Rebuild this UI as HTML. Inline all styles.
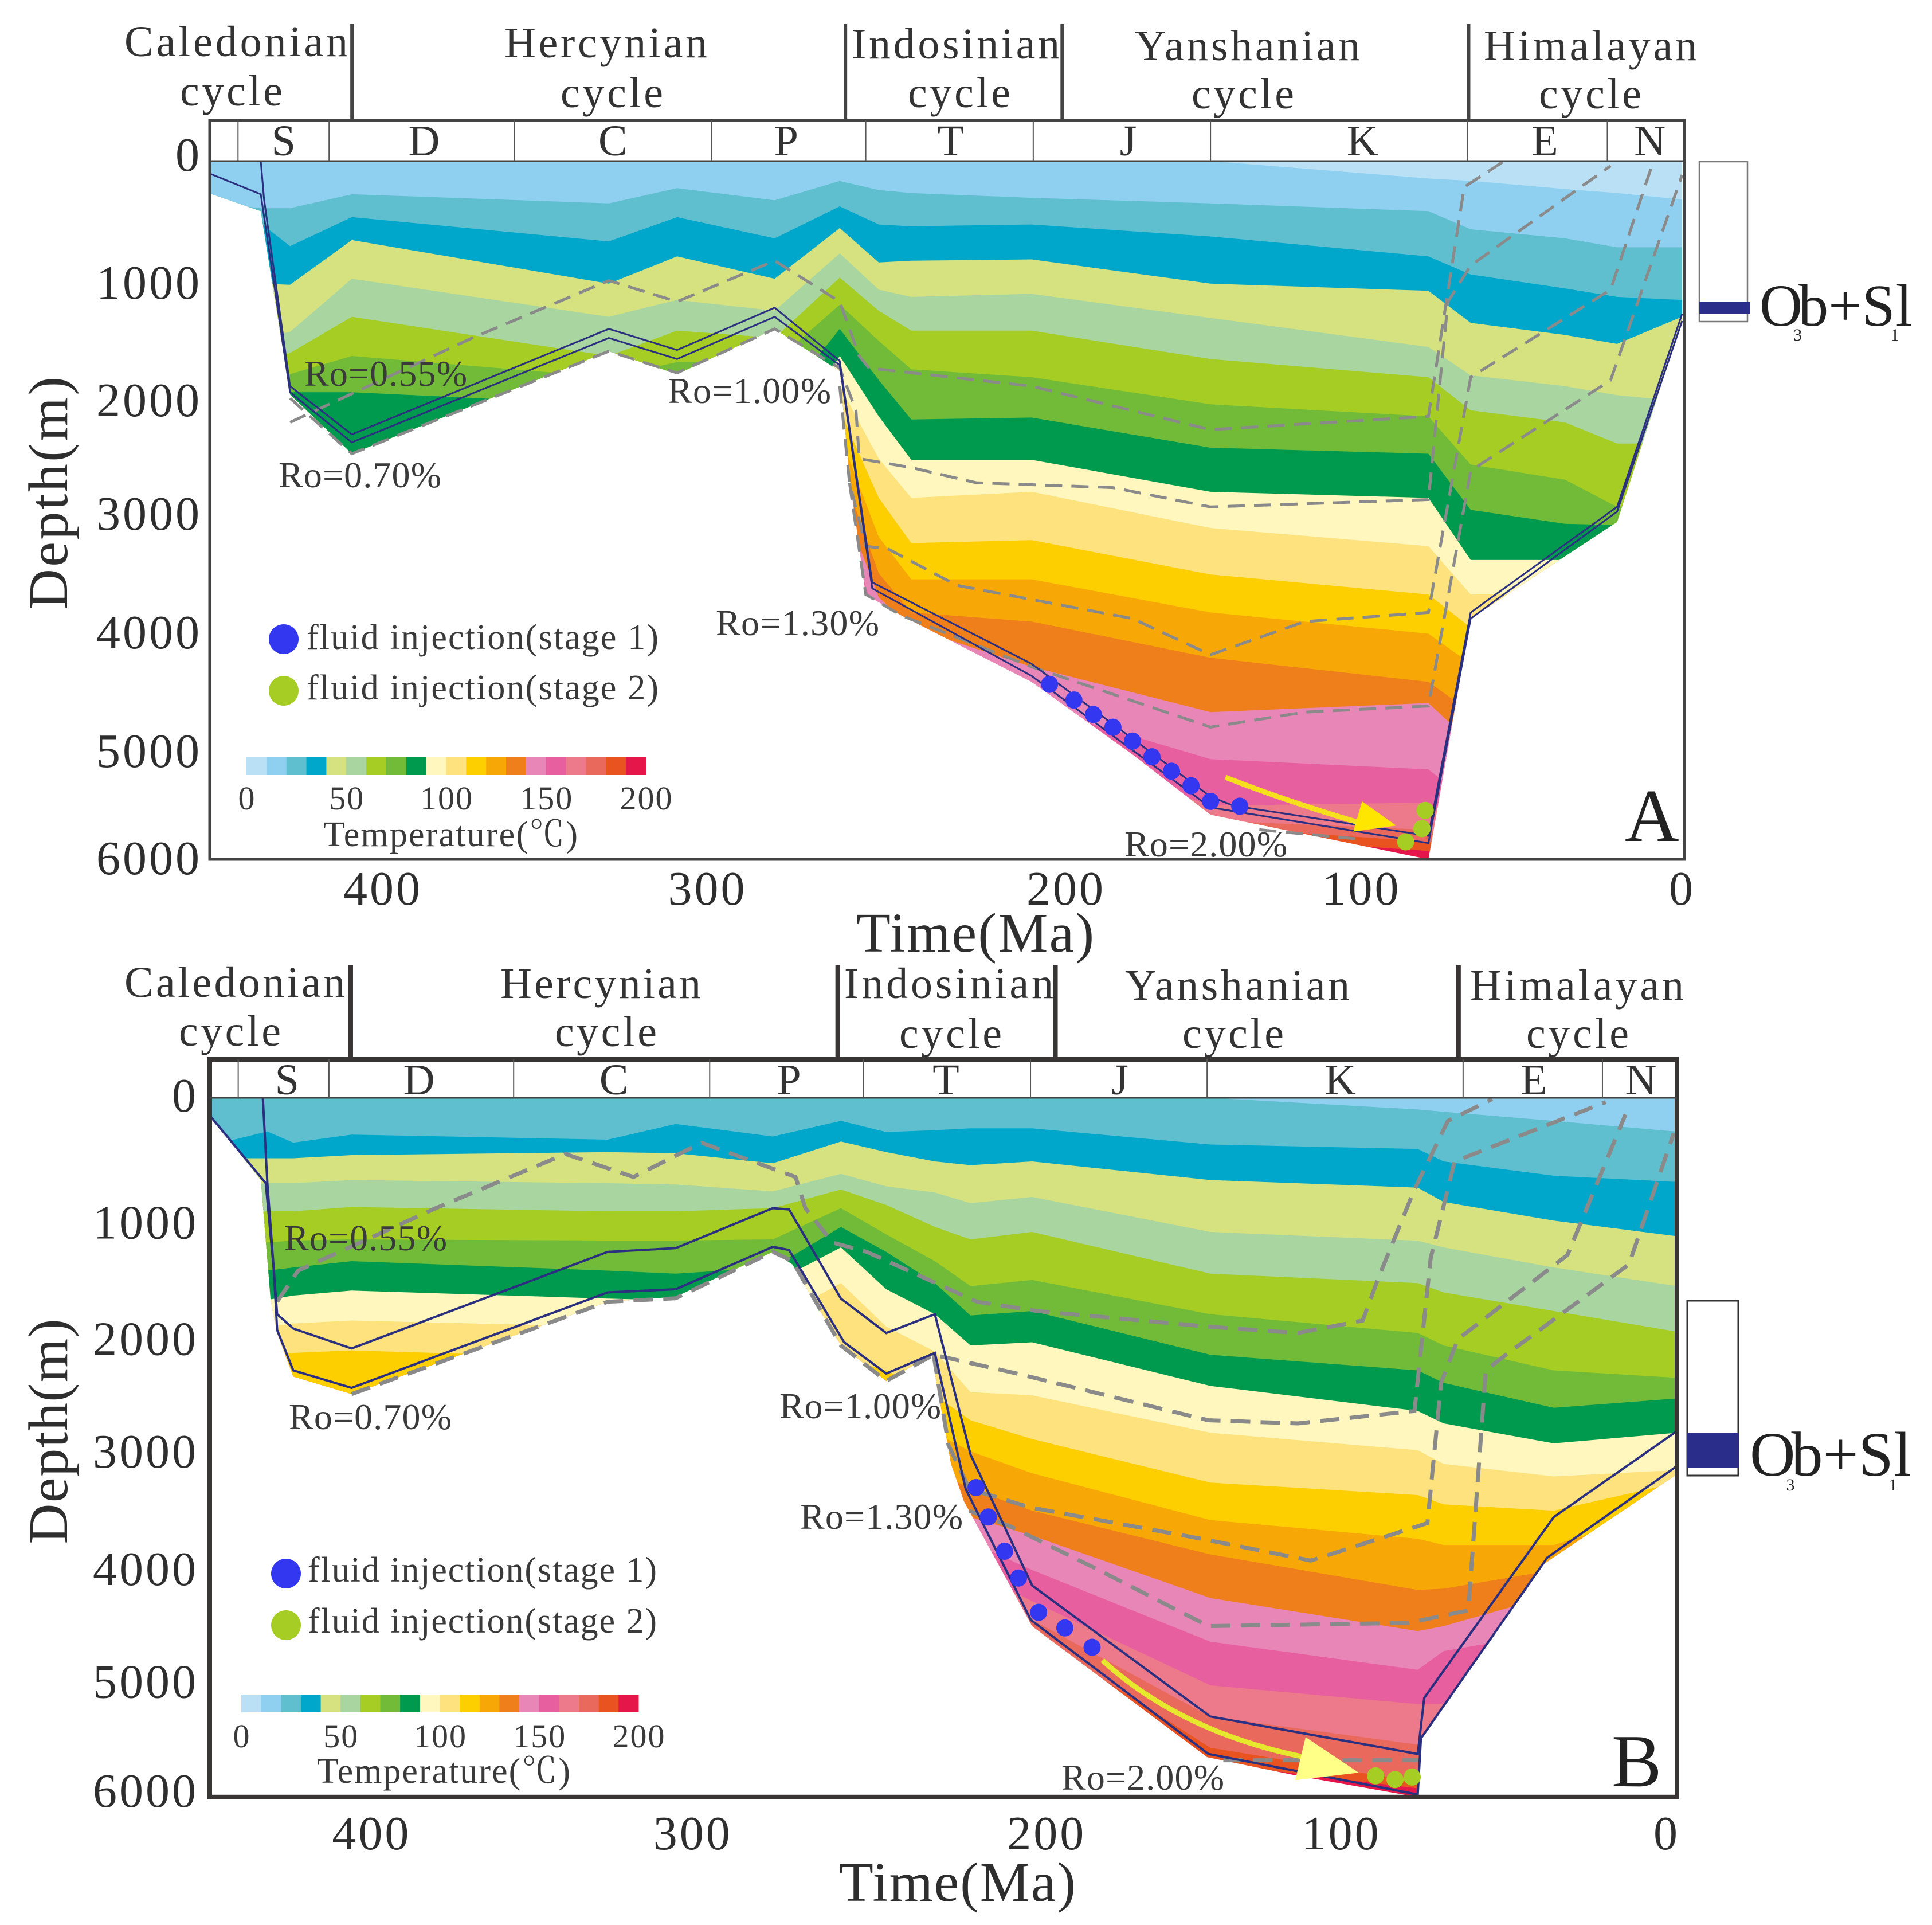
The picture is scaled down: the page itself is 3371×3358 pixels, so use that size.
<!DOCTYPE html>
<html lang="en">
<head>
<meta charset="utf-8">
<title>Burial and thermal history, wells A and B</title>
<style>
html,body{margin:0;padding:0;background:#fff}
svg{display:block}
text{font-family:"Liberation Serif","Noto Serif CJK SC",serif;fill:#333}
.cyc{font-size:76px}
.per{font-size:76px;text-anchor:middle}
.ro{font-size:64px;fill:#3a3a3a}
.leg{font-size:62px;fill:#3a3a3a}
.ttl{font-size:98px;fill:#2e2e2e}
.tick{font-size:84px;letter-spacing:4px;fill:#2e2e2e}
.ltick{font-size:58px;letter-spacing:2px;text-anchor:middle;fill:#3a3a3a}
.tag{font-size:131px;fill:#222}
.fm{font-size:104px;fill:#222}
.fmb{font-size:110px;fill:#222}
.sub{font-size:30px}
</style>
</head>
<body>
<svg xmlns="http://www.w3.org/2000/svg" id="chart" width="3371" height="3358" viewBox="0 0 3371 3358">
<rect width="3371" height="3358" fill="#fff"/>
<g id="panelA"></g>
<g id="panelB"></g>

<!-- Panel A static labels -->
<g>
<text class="cyc" x="217" y="98" textLength="390">Caledonian</text>
<text class="cyc" x="314" y="184" textLength="179">cycle</text>
<text class="cyc" x="880" y="100" textLength="354">Hercynian</text>
<text class="cyc" x="978" y="187" textLength="179">cycle</text>
<text class="cyc" x="1486" y="102" textLength="363">Indosinian</text>
<text class="cyc" x="1584" y="187" textLength="179">cycle</text>
<text class="cyc" x="1980" y="105" textLength="393">Yanshanian</text>
<text class="cyc" x="2079" y="189" textLength="179">cycle</text>
<text class="cyc" x="2589" y="105" textLength="372">Himalayan</text>
<text class="cyc" x="2685" y="189" textLength="179">cycle</text>
<text class="ttl" transform="translate(117,860) rotate(-90)" text-anchor="middle" textLength="406">Depth(m)</text>
<text class="ttl" x="1494" y="1660" textLength="415">Time(Ma)</text>
<text class="ro" x="531" y="673" textLength="284">Ro=0.55%</text>
<text class="ro" x="486" y="850" textLength="284">Ro=0.70%</text>
<text class="ro" x="1165" y="703" textLength="285">Ro=1.00%</text>
<text class="ro" x="1249" y="1108" textLength="285">Ro=1.30%</text>
<text class="ro" x="1962" y="1494" textLength="284">Ro=2.00%</text>
<text class="leg" x="535" y="1132" textLength="614">fluid injection(stage 1)</text>
<text class="leg" x="535" y="1220" textLength="614">fluid injection(stage 2)</text>
<text class="leg" x="564" y="1476" textLength="444">Temperature(℃)</text>
<text class="tag" x="2835" y="1467">A</text>
<rect x="2965" y="282" width="84" height="279" fill="#fff" stroke="#777" stroke-width="2.5"/>
<rect x="2965" y="526" width="88" height="21" fill="#2b2d8a"/>
<text class="fm" x="3070" y="568">O<tspan class="sub" dx="-16" dy="26">3</tspan><tspan dx="-6" dy="-26">b+S</tspan><tspan class="sub" dx="-8" dy="26">1</tspan><tspan dx="-6" dy="-26">l</tspan></text>
</g>

<!-- Panel B static labels -->
<g>
<text class="cyc" x="217" y="1739" textLength="385">Caledonian</text>
<text class="cyc" x="312" y="1824" textLength="178">cycle</text>
<text class="cyc" x="873" y="1741" textLength="350">Hercynian</text>
<text class="cyc" x="968" y="1825" textLength="178">cycle</text>
<text class="cyc" x="1473" y="1741" textLength="365">Indosinian</text>
<text class="cyc" x="1569" y="1828" textLength="179">cycle</text>
<text class="cyc" x="1963" y="1744" textLength="392">Yanshanian</text>
<text class="cyc" x="2063" y="1828" textLength="177">cycle</text>
<text class="cyc" x="2565" y="1744" textLength="373">Himalayan</text>
<text class="cyc" x="2663" y="1828" textLength="179">cycle</text>
<text class="ttl" transform="translate(117,2497) rotate(-90)" text-anchor="middle" textLength="393">Depth(m)</text>
<text class="ttl" x="1464" y="3316" textLength="413">Time(Ma)</text>
<text class="ro" x="496" y="2181" textLength="284">Ro=0.55%</text>
<text class="ro" x="504" y="2493" textLength="284">Ro=0.70%</text>
<text class="ro" x="1360" y="2474" textLength="282">Ro=1.00%</text>
<text class="ro" x="1396" y="2667" textLength="284">Ro=1.30%</text>
<text class="ro" x="1852" y="3122" textLength="284">Ro=2.00%</text>
<text class="leg" x="537" y="2759" textLength="609">fluid injection(stage 1)</text>
<text class="leg" x="537" y="2848" textLength="609">fluid injection(stage 2)</text>
<text class="leg" x="553" y="3110" textLength="442">Temperature(℃)</text>
<text class="tag" x="2812" y="3116">B</text>
<rect x="2944" y="2269" width="89" height="305" fill="#fff" stroke="#333" stroke-width="3"/>
<rect x="2944" y="2500" width="89" height="60" fill="#2b2d8a"/>
<text class="fmb" x="3053" y="2574">O<tspan class="sub" dx="-16" dy="26">3</tspan><tspan dx="-6" dy="-26">b+S</tspan><tspan class="sub" dx="-8" dy="26">1</tspan><tspan dx="-6" dy="-26">l</tspan></text>
</g>
</svg>

<script>
/* ---------- shared categories and scale labels ---------- */
const bandColors = ['#b9e0f5','#8fd0f0','#5fbfcf','#00a7cb','#d6e27f','#a8d5a0','#a6cd23','#72bb38','#009a4e','#fff7bd','#fde27d','#fdce00','#f7a806','#ef7f1a','#e886b7','#e85fa0','#ec7a8a','#e96a5c','#e9531f','#e5174a'];
const periodNames = ['S','D','C','P','T','J','K','E','N'];
const periodStarts = [444,416,359,298.5,251,199.5,145,66,23];
const depthTicks = [0,1000,2000,3000,4000,5000,6000];
const timeTicks = [400,300,200,100,0];
const temperatureTicks = ['0','50','100','150','200'];

/* ---------- panel A: isotherm depths (m) at each age (Ma) ---------- */
const aTimes = [453,437,428,409,330,309,279,259,247,237,200,145,78,65,36,20,0];
const aIso1 = [0,0,0,0,0,0,0,0,0,0,0,0,150,170,240,275,330];
const aIso2 = [353,405,405,285,363,233,337,171,249,275,316,363,430,586,664,741,741];
const aIso3 = [690,534,731,482,690,482,664,389,545,560,545,648,819,975,1094,1167,1193];
const aIso4 = [1208,1053,1063,679,1053,819,1011,576,871,856,845,1053,1115,1390,1494,1571,1338];
const aIso5 = [1571,1519,1468,1011,1338,1193,1286,793,1105,1167,1141,1348,1597,1841,1934,2012,2064];
const aIso6 = [1831,1727,1649,1338,1675,1457,1519,1001,1286,1457,1457,1701,1857,2142,2246,2427,2427];
const aIso7 = [1934,1882,1831,1675,1857,1727,1727,1234,1545,1789,1857,2090,2194,2608,2738,2972,2972];
const aIso8 = [2038,2012,1986,1986,2090,2142,2142,1442,1882,2220,2204,2463,2515,2997,3117,3127,3127];
const aIso9 = [2557,2557,2557,2557,2557,2557,2557,1675,2194,2567,2567,2842,2894,3428,3428,3283,3283];
const aIso10 = [2764,2764,2764,2764,2764,2764,2764,1934,2557,2894,2842,3153,3309,3724,3724,3724,3724];
const aIso11 = [2950,2950,2950,2950,2950,2950,2950,2142,2894,3283,3257,3552,3724,4009,4009,4009,4009];
const aIso12 = [3100,3100,3100,3100,3100,3100,3100,2349,3231,3594,3594,3879,4061,4320,4320,4320,4320];
const aIso13 = [3200,3200,3200,3200,3200,3200,3200,2608,3542,3879,3957,4268,4475,4735,4735,4735,4735];
const aIso14 = [3300,3300,3300,3300,3300,3300,3300,2868,3749,4009,4346,4735,4657,4994,4994,4994,4994];
const aIso15 = [3400,3400,3400,3400,3400,3400,3400,2950,4009,4320,4683,5139,5227,5513,5513,5513,5513];
const aIso16 = [3500,3500,3500,3500,3500,3500,3500,3050,4216,4579,4994,5539,5513,5772,5772,5772,5772];
const aIso17 = [3600,3600,3600,3600,3600,3600,3600,3150,4400,4787,5201,5668,5746,5900,5900,5900,5900];
const aIso18 = [3700,3700,3700,3700,3700,3700,3700,3250,4550,4950,5357,5720,5850,5950,5950,5950,5950];
const aIso19 = [3800,3800,3800,3800,3800,3800,3800,3350,4700,5100,5500,5800,5928,5980,5980,5980,5980];

const aBasinTimes = [453,437,428,409,330,309,279,259,256,251,240,200,169,145,78,65,20,0];
const aBasinDepths = [275,430,2006,2515,1634,1831,1442,1805,2712,3724,3905,4475,5098,5616,6000,3931,3101,1364];

const aTopTimes = [437,436,428,409,330,309,279,259,249,200,145,138,78,65,20,0];
const aTopDepths = [0,327,1934,2349,1442,1623,1260,1717,3620,4320,5461,5539,5798,3879,2972,1312];
const aBaseTimes = [453,437,428,409,330,309,279,259,249,200,145,78,65,20,0];
const aBaseDepths = [104,285,1986,2417,1520,1701,1338,1753,3672,4424,5554,5860,3931,3013,1374];

const aRo055Times = [428,372,330,309,279,259,253,250,200,145,78,67,55];
const aRo055Depths = [2245,1520,1027,1208,856,1208,1675,1779,1934,2308,2194,223,5];
const aRo070Times = [428,409,330,309,279,259,254,253,237,217,175,145,78,72,65,22];
const aRo070Depths = [2038,2515,1634,1820,1442,1779,2142,2557,2634,2764,2806,2972,2909,1208,897,41];
const aRo100Times = [259,256,251,244,223,169,145,116,78,65,22,9];
const aRo100Depths = [1934,2764,3309,3335,3646,3931,4242,3957,3879,1857,1105,16];
const aRo130Times = [256,251,240,200,145,116,78,77,65,22,0];
const aRo130Depths = [2764,3724,3905,4346,4864,4735,4683,4527,2660,1883,119];
const aRo200Times = [130,100];
const aRo200Depths = [5746,5824];

const aStage1Times = [194.5,187,181,175,169,163,157,151,145,136];
const aStage1Depths = [4496,4631,4756,4865,4984,5119,5243,5368,5502,5544];
const aStage2Times = [79,80,85];
const aStage2Depths = [5580,5736,5850];
const aArrowTimes = [140.4,120.5,97.4];
const aArrowDepths = [5295,5513,5700];
const aHeadTimes = [98.4,87.9,101.1];
const aHeadDepths = [5502,5710,5762];

/* ---------- panel B: isotherm depths (m) at each age (Ma) ---------- */
const bTimes = [453,435,427,409,330,309,279,258,244,229,218,199,144,80,72,38,0];
const bIso1 = [0,0,0,0,0,0,0,0,0,0,0,0,0,0,0,0,0];
const bIso2 = [0,0,0,0,0,0,0,0,0,0,0,0,0,100,120,198,290];
const bIso3 = [412,289,385,316,359,225,332,198,294,278,262,262,401,439,546,669,722];
const bIso4 = [519,519,519,492,466,476,562,375,466,546,578,546,706,771,894,1054,1188];
const bIso5 = [787,733,733,706,733,744,803,653,760,813,904,851,1151,1226,1284,1456,1616];
const bIso6 = [1001,974,974,937,974,974,947,787,920,1108,1215,1151,1509,1590,1670,1830,2007];
const bIso7 = [1268,1241,1225,1215,1225,1225,1215,947,1172,1402,1616,1563,1857,2018,2125,2339,2403];
const bIso8 = [1483,1483,1456,1402,1483,1509,1456,1108,1322,1590,1868,1830,2205,2339,2446,2660,2580];
const bIso9 = [1750,1734,1697,1654,1723,1739,1590,1284,1643,1857,2125,2098,2472,2687,2794,2965,2874];
const bIso10 = [1991,1964,1937,1911,1964,1964,1911,1590,1964,2178,2526,2553,2874,3024,3142,3249,3195];
const bIso11 = [2232,2205,2189,2168,2232,2232,2232,2232,2339,2553,2767,2928,3302,3409,3489,3543,3302];
const bIso12 = [2600,2600,2600,2600,2600,2600,2600,2600,2700,2874,3034,3222,3623,3784,3837,3837,3516];
const bIso13 = [2900,2900,2900,2900,2900,2900,2900,2900,3000,3195,3356,3543,3918,4223,4212,4052,3784];
const bIso14 = [3100,3100,3100,3100,3100,3100,3100,3100,3200,3409,3597,3757,4292,4576,4533,4266,4052];
const bIso15 = [3300,3300,3300,3300,3300,3300,3300,3300,3400,3623,3811,4052,4667,4908,4747,4587,4319];
const bIso16 = [3500,3500,3500,3500,3500,3500,3500,3500,3600,3837,4052,4319,5042,5202,5200,5100,4800];
const bIso17 = [3700,3700,3700,3700,3700,3700,3700,3700,3800,4000,4300,4480,5310,5550,5550,5400,5000];
const bIso18 = [3900,3900,3900,3900,3900,3900,3900,3900,4000,4200,4500,4600,5577,5871,5800,5600,5200];
const bIso19 = [4100,4100,4100,4100,4100,4100,4100,4100,4200,4400,4700,4800,5710,5925,5900,5700,5400];

const bBasinTimes = [453,437,434,432,427,409,330,309,279,273,258,244,230,224,220,199,145,117,80,79,41,0];
const bBasinDepths = [144,706,1734,2018,2392,2542,1750,1707,1322,1429,2125,2430,2205,3142,3463,4533,5657,5818,6000,5496,3998,3230];

const bTopTimes = [436.4,435,432,427,409,330,309,279,274,258,244,229,218,199,144,80,78,38,0];
const bTopDepths = [0,733,1857,1980,2151,1322,1290,947,958,1723,2018,1857,3061,4185,5309,5630,5149,3597,2860];
const bBaseTimes = [453,435.5,433,432,427,409,330,309,279,274,257,244,229,219.5,199.4,144.6,80,79,40,0];
const bBaseDepths = [144,733,1483,1991,2339,2489,1670,1643,1279,1306,2098,2366,2189,3356,4480,5630,5978,5496,3945,3160];

const bRo055Times = [432,425.5,383,343,322,301,272,269,260.6,250,216,197.3,144.6,117,97,92,81,70.7,57];
const bRo055Depths = [1750,1483,947,482,680,385,680,947,1242,1322,1750,1830,1964,2018,1911,1536,787,198,11];
const bRo070Times = [409,330,309,279,273,258,244,229.4,203.7,144.6,117,81,76,68.6,22];
const bRo070Depths = [2542,1750,1720,1322,1400,2125,2430,2205,2366,2767,2794,2687,1375,546,37];
const bRo100Times = [229.4,224.8,218.4,199.4,146.7,113,77,72.8,67.6,33.8,15.9];
const bRo100Depths = [2205,2981,3356,3516,3784,3971,3650,2446,2071,1349,144];
const bRo130Times = [218.4,205.8,178.4,144.6,83,64.4,59,52.8,14.8,1];
const bRo130Depths = [3543,3677,4052,4533,4506,4399,2339,2205,1429,305];
const bRo200Times = [140,79];
const bRo200Depths = [5684,5684];

const bStage1Times = [216.3,212.5,207.5,203.2,197,188.9,180.5];
const bStage1Depths = [3345,3597,3891,4121,4415,4549,4715];
const bStage2Times = [93,87,81.7];
const bStage2Depths = [5818,5850,5828];
const bArrowTimes = [177.3,153,115];
const bArrowDepths = [4827,5443,5657];
const bHeadTimes = [114.6,98.2,117.8];
const bHeadDepths = [5486,5791,5855];

/* ---------- drawing ---------- */
const NS = 'http://www.w3.org/2000/svg';
function make(tag, parent, attrs) {
  const el = document.createElementNS(NS, tag);
  for (const k in attrs) el.setAttribute(k, attrs[k]);
  parent.appendChild(el);
  return el;
}

function drawPanel(p) {
  const host = document.getElementById(p.id);
  const x = t => p.xRight - p.xScale * t;
  const y = d => p.yTop + d * p.yScale;
  const line = (ts, ds) => ts.map((t, i) => (i ? 'L' : 'M') + x(t).toFixed(1) + ' ' + y(ds[i]).toFixed(1)).join(' ');

  /* clip to the basin outline */
  const defs = make('defs', host, {});
  const clip = make('clipPath', defs, { id: p.id + '-clip' });
  make('path', clip, { d: 'M' + x(0) + ' ' + y(0) + ' L' + x(p.basinTimes[0]) + ' ' + y(0) + ' ' + line(p.basinTimes, p.basinDepths).replace('M', 'L') + ' Z' });

  /* temperature bands, deepest first */
  const bands = make('g', host, { 'clip-path': 'url(#' + p.id + '-clip)' });
  
  
  const base = make('rect', bands, { x: x(p.times[0]), y: y(0), width: x(0) - x(p.times[0]) + 6, height: y(6000) - y(0), fill: bandColors[19] });
  
  
  for (let k = p.isotherms.length - 1; k >= 0; k--) {
    const d = 'M' + x(p.times[0]) + ' ' + y(0) + ' ' + line(p.times, p.isotherms[k]).replace('M', 'L') + ' L' + x(0) + ' ' + y(0) + ' Z';
    const band = make('path', bands, { d: d, fill: bandColors[k] });
    
    
  }

  /* Ro dashed curves */
  p.roCurves.forEach(c => {
    const ro = make('path', host, { d: line(c[0], c[1]), fill: 'none', stroke: '#8a8a8a', 'stroke-width': p.dashWidth, 'stroke-dasharray': p.dash });
    
    
  });

  /* burial curves */
  p.burial.forEach(c => {
    const b = make('path', host, { d: line(c[0], c[1]), fill: 'none', stroke: '#2b2f7f', 'stroke-width': p.burialWidth, 'stroke-linejoin': 'miter' });
    
    
  });

  /* migration arrow */
  const ax = p.arrow[0], ad = p.arrow[1];
  const shaft = make('path', host, { d: 'M' + x(ax[0]) + ' ' + y(ad[0]) + ' Q' + x(ax[1]) + ' ' + y(ad[1]) + ' ' + x(ax[2]) + ' ' + y(ad[2]), fill: 'none', stroke: p.arrowColor, 'stroke-width': 9 });
  
  
  const head = make('polygon', host, { points: p.head[0].map((t, i) => x(t) + ',' + y(p.head[1][i])).join(' '), fill: p.headColor });
  
  

  /* fluid injection points */
  p.stage1[0].forEach((t, i) => {
    const c = make('circle', host, { cx: x(t), cy: y(p.stage1[1][i]), r: 15, fill: '#3338f0' });
    
    
  });
  p.stage2[0].forEach((t, i) => {
    const c = make('circle', host, { cx: x(t), cy: y(p.stage2[1][i]), r: 15, fill: '#a6cd23' });
    
    
  });

  /* frame, header rule, period dividers */
  const frame = make('rect', host, { x: p.left, y: p.frameTop, width: p.frameRight - p.left, height: y(6000) - p.frameTop, fill: 'none', stroke: p.frameColor, 'stroke-width': p.frameWidth });
  
  
  const rule = make('line', host, { x1: p.left, x2: p.frameRight, y1: y(0), y2: y(0), stroke: '#444', 'stroke-width': 3 });
  
  
  periodStarts.forEach(t => {
    const div = make('line', host, { x1: x(t), x2: x(t), y1: p.frameTop, y2: y(0), stroke: '#555', 'stroke-width': 2 });
    
    
  });
  periodNames.forEach((n, i) => {
    const next = i + 1 < periodStarts.length ? periodStarts[i + 1] : 0;
    const lab = make('text', host, { class: 'per', x: (x(periodStarts[i]) + x(next)) / 2 + p.periodNudge[i], y: p.periodBase });
    lab.textContent = n;
    
    
  });

  /* cycle separators */
  p.cycleAges.forEach((t, i) => {
    const sep = make('line', host, { x1: p.cycleXNudge[i] + x(t), x2: p.cycleXNudge[i] + x(t), y1: p.cycleTop, y2: p.frameTop, stroke: p.frameColor, 'stroke-width': p.cycleWidth });
    
    
  });

  /* axis ticks */
  depthTicks.forEach((d, i) => {
    const lab = make('text', host, { class: 'tick', x: p.yLabelRight, y: y(d) + p.yNudge[i], 'text-anchor': 'end' });
    lab.textContent = String(d);
    
    
  });
  timeTicks.forEach((t, i) => {
    const lab = make('text', host, { class: 'tick', x: x(t) + p.xNudge[i], y: p.xLabelBase, 'text-anchor': 'middle' });
    lab.textContent = String(t);
    
    
  });

  /* legend */
  const dot1 = make('circle', host, { cx: p.legendX, cy: p.legendY1, r: 26, fill: '#3338f0' });
  
  
  const dot2 = make('circle', host, { cx: p.legendX, cy: p.legendY2, r: 26, fill: '#a6cd23' });
  
  
  const w = (p.scaleX2 - p.scaleX1) / bandColors.length;
  bandColors.forEach((col, i) => {
    const sw = make('rect', host, { x: p.scaleX1 + i * w, y: p.scaleY, width: w + 0.5, height: p.scaleH, fill: col });
    
    
  });
  temperatureTicks.forEach((t, i) => {
    const lab = make('text', host, { class: 'ltick', x: p.scaleX1 + (p.scaleX2 - p.scaleX1) * i / 4 + 1, y: p.scaleLabelBase });
    lab.textContent = t;
    
    
  });
}

drawPanel({
  id: 'panelA', times: aTimes,
  isotherms: [aIso1,aIso2,aIso3,aIso4,aIso5,aIso6,aIso7,aIso8,aIso9,aIso10,aIso11,aIso12,aIso13,aIso14,aIso15,aIso16,aIso17,aIso18,aIso19],
  basinTimes: aBasinTimes, basinDepths: aBasinDepths,
  burial: [[aTopTimes,aTopDepths],[aBaseTimes,aBaseDepths]],
  roCurves: [[aRo055Times,aRo055Depths],[aRo070Times,aRo070Depths],[aRo100Times,aRo100Depths],[aRo130Times,aRo130Depths],[aRo200Times,aRo200Depths]],
  stage1: [aStage1Times,aStage1Depths], stage2: [aStage2Times,aStage2Depths],
  arrow: [aArrowTimes,aArrowDepths], head: [aHeadTimes,aHeadDepths],
  arrowColor: '#f6e01e', headColor: '#ffe600',
  xRight: 2935, xScale: 5.675, yTop: 281, yScale: 0.203,
  left: 366, frameRight: 2939, frameTop: 210, frameColor: '#444', frameWidth: 5,
  dash: '30 16', dashWidth: 5, burialWidth: 3,
  periodBase: 271, periodNudge: [0,4,0,-4,2,11,41,13,9],
  cycleAges: [419,262,201,66], cycleXNudge: [57,27,59,2], cycleTop: 42, cycleWidth: 6,
  yLabelRight: 352, yNudge: [17,37,39,34,38,42,26],
  xLabelBase: 1578, xNudge: [3,2,60,8,0],
  legendX: 495, legendY1: 1115, legendY2: 1205,
  scaleX1: 430, scaleX2: 1127, scaleY: 1320, scaleH: 32, scaleLabelBase: 1412
});

drawPanel({
  id: 'panelB', times: bTimes,
  isotherms: [bIso1,bIso2,bIso3,bIso4,bIso5,bIso6,bIso7,bIso8,bIso9,bIso10,bIso11,bIso12,bIso13,bIso14,bIso15,bIso16,bIso17,bIso18,bIso19],
  basinTimes: bBasinTimes, basinDepths: bBasinDepths,
  burial: [[bTopTimes,bTopDepths],[bBaseTimes,bBaseDepths]],
  roCurves: [[bRo055Times,bRo055Depths],[bRo070Times,bRo070Depths],[bRo100Times,bRo100Depths],[bRo130Times,bRo130Depths],[bRo200Times,bRo200Depths]],
  stage1: [bStage1Times,bStage1Depths], stage2: [bStage2Times,bStage2Depths],
  arrow: [bArrowTimes,bArrowDepths], head: [bHeadTimes,bHeadDepths],
  arrowColor: '#e6e82e', headColor: '#ffff88',
  xRight: 2926, xScale: 5.654, yTop: 1915, yScale: 0.2033,
  left: 366, frameRight: 2926, frameTop: 1848, frameColor: '#3a3535', frameWidth: 8,
  dash: '34 18', dashWidth: 7, burialWidth: 4,
  periodBase: 1909, periodNudge: [6,-4,4,4,-2,2,9,2,2],
  cycleAges: [419,262,201,66], cycleXNudge: [55,17,52,-8], cycleTop: 1683, cycleWidth: 8,
  yLabelRight: 346, yNudge: [24,42,42,35,37,30,17],
  xLabelBase: 3226, xNudge: [-16,-21,31,-20,-18],
  legendX: 499, legendY1: 2745, legendY2: 2835,
  scaleX1: 421, scaleX2: 1114, scaleY: 2956, scaleH: 31, scaleLabelBase: 3048
});
</script>
</body>
</html>
